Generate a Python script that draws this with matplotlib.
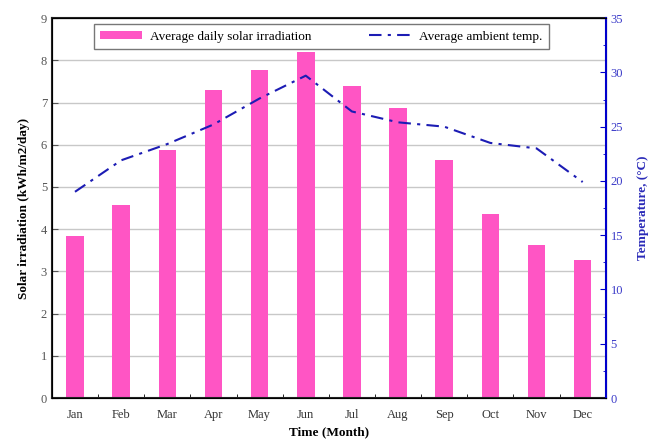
import matplotlib
matplotlib.use('Agg')
import matplotlib.pyplot as plt
import numpy as np
from matplotlib.ticker import MultipleLocator

plt.rcParams['font.family'] = ['Liberation Serif', 'DejaVu Serif']

months = ['Jan', 'Feb', 'Mar', 'Apr', 'May', 'Jun', 'Jul', 'Aug', 'Sep', 'Oct', 'Nov', 'Dec']
irradiation = [3.85, 4.57, 5.88, 7.30, 7.77, 8.20, 7.40, 6.88, 5.63, 4.37, 3.62, 3.27]
temperature = [19.0, 21.9, 23.4, 25.2, 27.6, 29.7, 26.4, 25.4, 25.0, 23.5, 23.0, 19.9]

fig = plt.figure(figsize=(6.57, 4.42), dpi=100)
ax = fig.add_axes([0.079, 0.0995, 0.843, 0.8595])
x = np.arange(len(months))

ax.grid(axis='y', color='#c8c8c8', linewidth=1.0, zorder=0)
bars = ax.bar(x, irradiation, width=0.38, color='#ff55c4', zorder=2,
              label='Average daily solar irradiation')
ax.set_xlim(-0.5, 11.5)
ax.set_ylim(0, 9)
ax.set_xticks(x)
ax.set_xticklabels(months)
ax.set_xticks(np.arange(0.5, 11, 1), minor=True)
ax.tick_params(axis='x', which='major', length=0, labelsize=9, pad=8, colors='#333333')
ax.tick_params(axis='x', which='minor', direction='in', length=3, color='black')
ax.tick_params(axis='y', direction='in', length=4, labelsize=9, colors='#555555')
ax.set_xlabel('Time (Month)', fontsize=9.5, fontweight='bold', labelpad=4)
ax.set_ylabel('Solar irradiation (kWh/m2/day)', fontsize=9.5, fontweight='bold', labelpad=8)
for s in ['left', 'bottom', 'top']:
    ax.spines[s].set_linewidth(1.5)
    ax.spines[s].set_color('#222222')

ax2 = ax.twinx()
line, = ax2.plot(x, temperature, color='#1c1cb4', linestyle=(0, (6, 3, 1.5, 3)),
                 linewidth=1.5, label='Average ambient temp.', zorder=3)
ax2.set_ylim(0, 35)
ax2.yaxis.set_major_locator(MultipleLocator(5))
ax2.yaxis.set_minor_locator(MultipleLocator(2.5))
ax2.tick_params(axis='y', which='major', direction='in', length=4, labelsize=9,
                colors='#3a3ac8', color='#0000cc')
ax2.tick_params(axis='y', which='minor', direction='in', length=2.5, color='#0000cc')
ax2.spines['right'].set_color('#0000cc')
ax2.spines['right'].set_linewidth(1.5)
ax2.set_ylabel('Temperature, (°C)', fontsize=9.5, fontweight='bold', color='#2a2ab8', labelpad=10)

leg = ax.legend([bars, line], ['Average daily solar irradiation', 'Average ambient temp.'],
                loc='upper center', bbox_to_anchor=(0.486, 0.995), ncol=2, fontsize=9.5,
                frameon=True, fancybox=False, edgecolor='#555555', handlelength=3.2,
                handleheight=0.5, columnspacing=4.3, borderpad=0.5, handletextpad=0.6,
                borderaxespad=0.3)
leg.get_frame().set_linewidth(1.0)
leg.set_zorder(5)

fig.savefig('out.png', dpi=100)
